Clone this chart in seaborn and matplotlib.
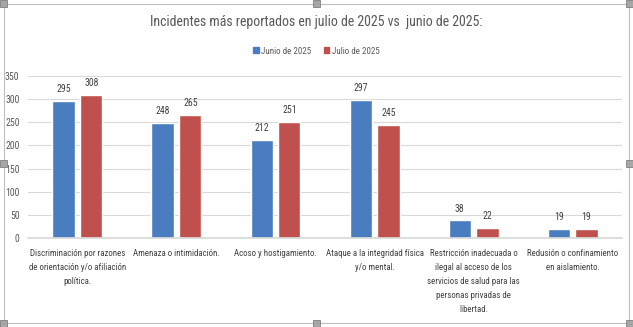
import matplotlib
matplotlib.use("Agg")
import matplotlib.pyplot as plt
import seaborn as sns
import pandas as pd
from matplotlib.patches import Rectangle

categories = [
    "Discriminación por razones\nde orientación y/o afiliación\npolítica.",
    "Amenaza o intimidación.",
    "Acoso y hostigamiento.",
    "Ataque a la integridad física\ny/o mental.",
    "Restricción inadecuada o\nilegal al acceso de los\nservicios de salud para las\npersonas privadas de\nlibertad.",
    "Redusión o confinamiento\nen aislamiento.",
]
junio = [295, 248, 212, 297, 38, 19]
julio = [308, 265, 251, 245, 22, 19]
series = ["Junio de 2025", "Julio de 2025"]
yticks = [0, 50, 100, 150, 200, 250, 300, 350]

df = pd.DataFrame({
    "cat": categories * 2,
    "serie": [series[0]] * len(categories) + [series[1]] * len(categories),
    "valor": junio + julio,
})

sns.set_theme(style="white")
plt.rcParams["font.family"] = ["Liberation Sans Narrow", "Roboto Condensed", "Liberation Sans", "DejaVu Sans"]

fig = plt.figure(figsize=(6.33, 3.27), dpi=100)
ax = fig.add_axes([0.044, 0.272, 0.939, 0.496])

palette = {series[0]: "#4A7DC0", series[1]: "#C0504D"}
sns.barplot(data=df, x="cat", y="valor", hue="serie", order=categories,
            hue_order=series, palette=palette, width=0.56, gap=0.2,
            saturation=1, ax=ax, legend=False)

for cont in ax.containers:
    ax.bar_label(cont, fmt="%d", padding=5, fontsize=7, color="#404040")

ax.set_xlim(-0.5, len(categories) - 0.5)
ax.set_ylim(0, 350)
ax.set_yticks(yticks)
ax.yaxis.grid(True, color="#D9D9D9", linewidth=0.8)
ax.set_axisbelow(True)
for s in ["top", "right", "left"]:
    ax.spines[s].set_visible(False)
ax.spines["bottom"].set_color("#D9D9D9")
ax.tick_params(axis="y", labelsize=7, colors="#595959", length=0, pad=6)
ax.tick_params(axis="x", labelsize=6.4, colors="#404040", length=0, pad=8)
ax.set_xlabel("")
ax.set_ylabel("")
for lbl in ax.get_xticklabels():
    lbl.set_linespacing(1.7)

fig.text(0.5, 0.933, "Incidentes más reportados en julio de 2025 vs  junio de 2025:",
         ha="center", va="center", fontsize=10, color="#595959")

# legend
handles = [Rectangle((0, 0), 1, 1, color=palette[s]) for s in series]
fig.legend(handles, series, loc="center", bbox_to_anchor=(0.5, 0.844), ncol=2,
           frameon=False, fontsize=6.5, handlelength=0.6, handleheight=0.6,
           handletextpad=0.3, columnspacing=1.4, labelcolor="#595959")

# chart area frame with sizing handles
fig.patches.append(Rectangle((0.006, 0.012), 0.988, 0.976, transform=fig.transFigure,
                             fill=False, edgecolor="#BFBFBF", linewidth=0.8))
hw, hh = 7 / 633, 7 / 327
for (x, y) in [(0.006, 0.012), (0.5, 0.012), (0.994, 0.012),
               (0.006, 0.5), (0.994, 0.5),
               (0.006, 0.988), (0.5, 0.988), (0.994, 0.988)]:
    fig.patches.append(Rectangle((x - hw / 2, y - hh / 2), hw, hh, transform=fig.transFigure,
                                 facecolor="#A6A6A6", edgecolor="#7F7F7F", linewidth=0.6))

fig.savefig("out.png", dpi=100, facecolor="white")
